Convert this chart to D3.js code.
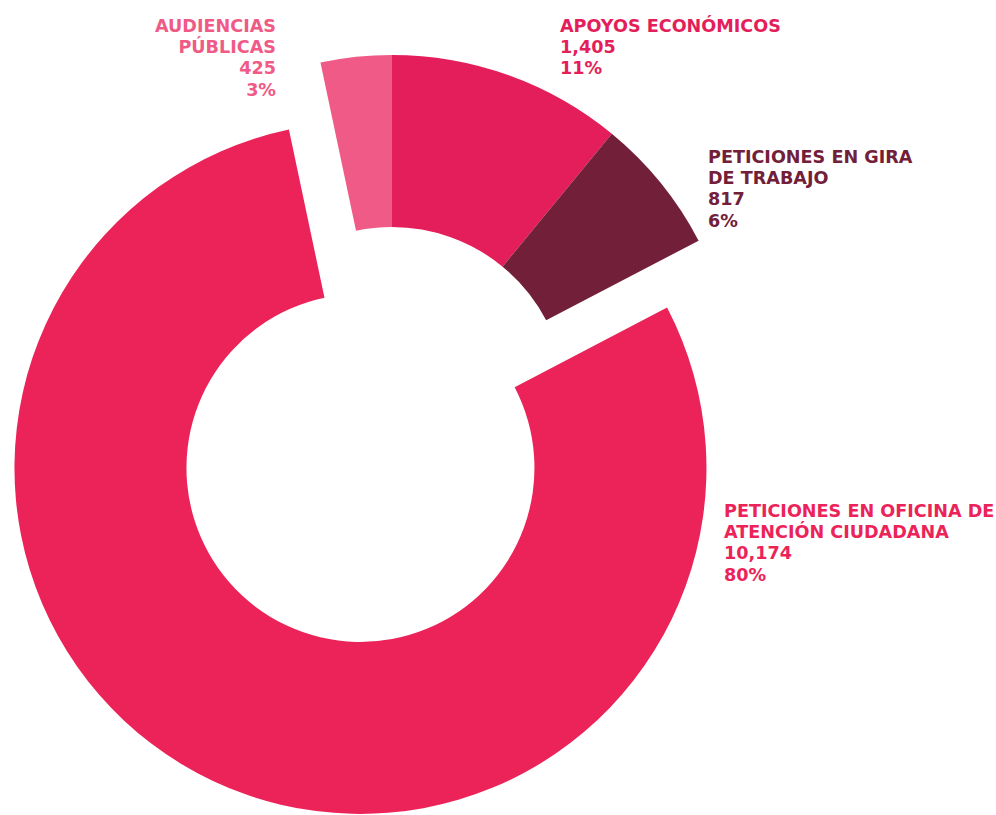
<html>
<head>
<meta charset="utf-8">
<script src="https://d3js.org/d3.v7.min.js"></script>
<style>
  body { margin: 0; background: #fff; }
  text { font-family: "DejaVu Sans", sans-serif; font-weight: 700; font-size: 17.6px; }
</style>
</head>
<body>
<script>
// datos
var categories = ["APOYOS ECONÓMICOS", "PETICIONES EN GIRA DE TRABAJO", "PETICIONES EN OFICINA DE ATENCIÓN CIUDADANA", "AUDIENCIAS PÚBLICAS"];
var values = [1405, 817, 10174, 425];
var percents = ["11%", "6%", "80%", "3%"];
var labelLines = [["APOYOS ECONÓMICOS"], ["PETICIONES EN GIRA", "DE TRABAJO"], ["PETICIONES EN OFICINA DE", "ATENCIÓN CIUDADANA"], ["AUDIENCIAS", "PÚBLICAS"]];
var colors = ["#e31e5a", "#722039", "#ec2359", "#ef5a86"];
var exploded = [0, 0, 74, 0];

var width = 996, height = 815;
var cx = 392, cy = 401;

var svg = d3.select("body").append("svg")
    .attr("width", width)
    .attr("height", height);

var g = svg.append("g").attr("transform", "translate(" + cx + "," + cy + ")");

var pie = d3.pie().sort(null).value(function(d) { return d; });
var arc = d3.arc().innerRadius(174).outerRadius(346);
var arcs = pie(values);

g.selectAll("path")
  .data(arcs)
  .enter().append("path")
  .attr("d", arc)
  .attr("fill", function(d, i) { return colors[i]; })
  .attr("transform", function(d, i) {
      var a = (d.startAngle + d.endAngle) / 2;
      var off = exploded[i];
      return "translate(" + (Math.sin(a) * off) + "," + (-Math.cos(a) * off) + ")";
  });

// etiquetas, una línea por texto
var labelPos = [
  {x: 560, y: 32, anchor: "start"},
  {x: 708, y: 163, anchor: "start"},
  {x: 724, y: 517, anchor: "start"},
  {x: 276, y: 32, anchor: "end"}
];
var fmt = d3.format(",");

labelPos.forEach(function(p, i) {
  var lines = labelLines[i].concat([fmt(values[i]), percents[i]]);
  lines.forEach(function(l, j) {
    svg.append("text")
      .attr("x", p.x)
      .attr("y", p.y + j * 21.2)
      .attr("text-anchor", p.anchor)
      .attr("fill", colors[i])
      .text(l);
  });
});
</script>
</body>
</html>
